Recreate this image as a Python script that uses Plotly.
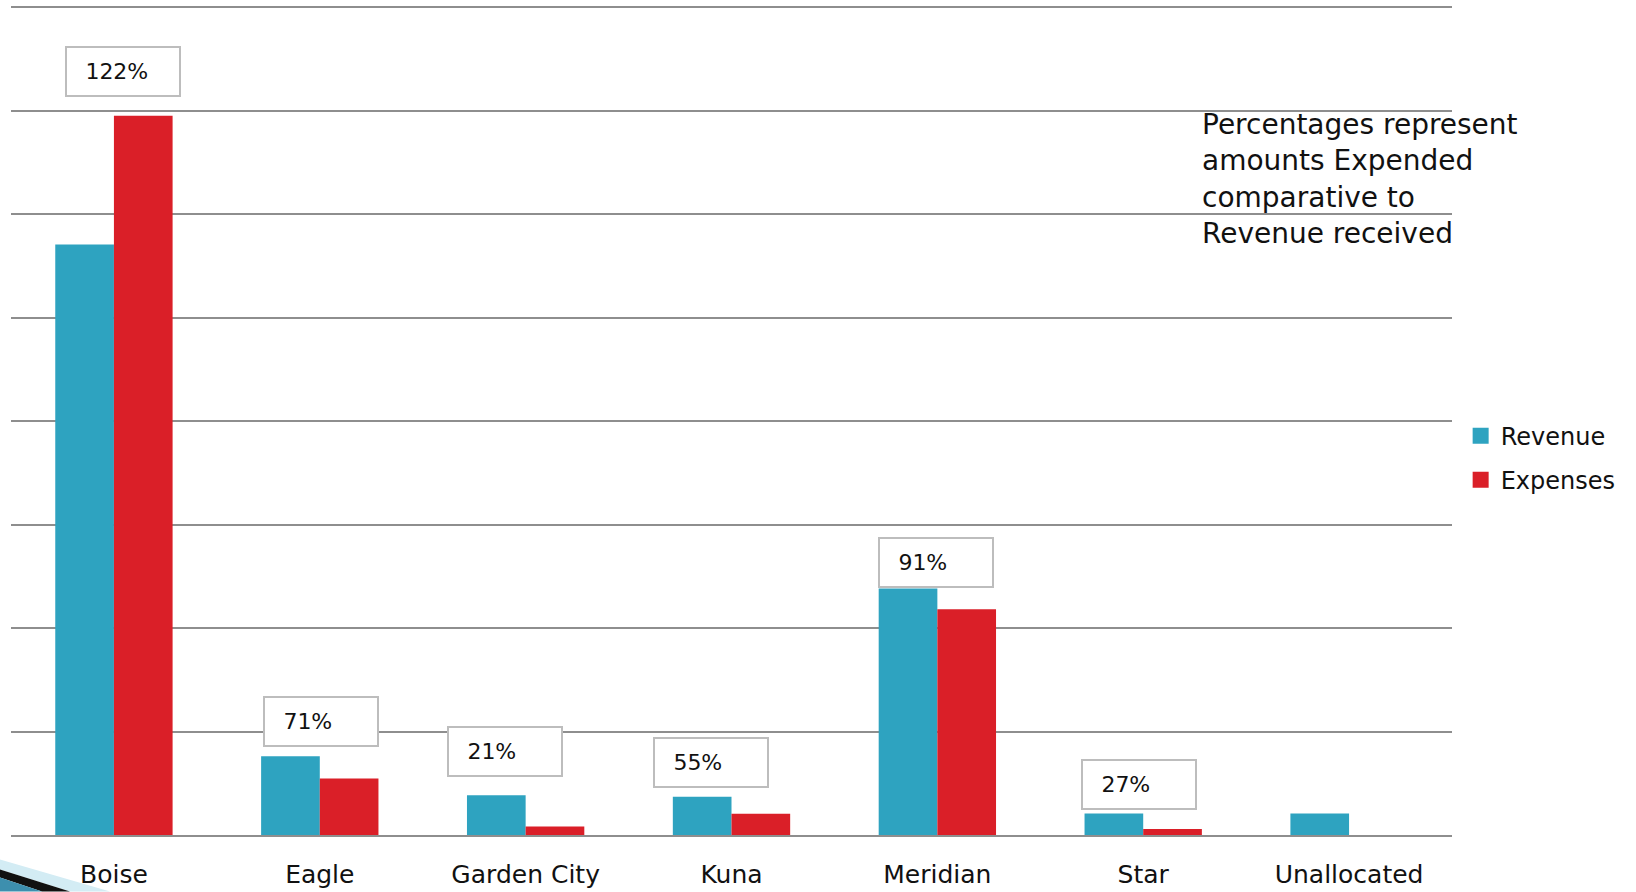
import plotly.graph_objects as go

# ---- data (values in gridline units) ----
categories = ["Boise", "Eagle", "Garden City", "Kuna", "Meridian", "Star", "Unallocated"]
revenue = [5.705, 0.761, 0.385, 0.369, 2.382, 0.208, 0.208]
expenses = [6.95, 0.546, 0.082, 0.205, 2.182, 0.057, None]
pct_labels = ["122%", "71%", "21%", "55%", "91%", "27%", None]
note_text = "Percentages represent<br>amounts Expended<br>comparative to<br>Revenue received"

# ---- styling / placement ----
BLUE = "#2ea3c0"
RED = "#da1f28"
GRID = "#8e8e8e"
FONT = "DejaVu Sans"
W, H = 1636, 892
YMAX = 8.02
ML, MR, MB = 11, 184, 56.5
UNIT = 103.5                      # px per gridline step
MT = H - MB - YMAX * UNIT         # top margin so that gridline 8 lands at ~7.5px
# label box placement: (x shift in px from category centre, box bottom in y units)
label_pos = [(-49, 7.128), (-57, 0.852), (-79, 0.558), (-79, 0.456), (-59, 2.388), (-62, 0.246), None]

fig = go.Figure()
fig.add_trace(go.Bar(x=categories, y=revenue, name="Revenue", marker=dict(color=BLUE, line=dict(width=0)),
                     showlegend=False))
fig.add_trace(go.Bar(x=categories, y=expenses, name="Expenses", marker=dict(color=RED, line=dict(width=0)),
                     showlegend=False))
# legend entries with larger square swatches
for nm, col in [("Revenue", BLUE), ("Expenses", RED)]:
    fig.add_trace(go.Scatter(x=[None], y=[None], mode="markers", name=nm, legendgroup=nm,
                             marker=dict(symbol="square", size=16, color=col)))

annotations = []
for cat, lab, pos in zip(categories, pct_labels, label_pos):
    if lab is None or pos is None:
        continue
    dx, yb = pos
    annotations.append(dict(
        x=cat, y=yb, xref="x", yref="y", xanchor="left", yanchor="bottom", xshift=dx,
        text="\u00a0\u00a0\u2009" + lab, showarrow=False, align="left", valign="middle",
        width=112, height=47, bordercolor="#bdbdbd", borderwidth=2, borderpad=0,
        bgcolor="white", font=dict(family=FONT, size=22, color="#111")))

plot_w = W - ML - MR
plot_h = H - MT - MB
def px(xpix):
    return (xpix - ML) / plot_w
def py(ypix):
    return (H - MB - ypix) / plot_h

annotations.append(dict(
    x=px(1200), y=py(106), xref="paper", yref="paper", xanchor="left", yanchor="top",
    text=note_text, showarrow=False, align="left",
    font=dict(family=FONT, size=28, color="#111")))

shapes = [
    dict(type="path", xref="paper", yref="paper", layer="below", line=dict(width=0),
         fillcolor="#d3ecf4",
         path=f"M {px(0)},{py(860)} L {px(110)},{py(892)} L {px(70)},{py(892)} L {px(0)},{py(870)} Z"),
    dict(type="path", xref="paper", yref="paper", layer="below", line=dict(width=0),
         fillcolor="#111111",
         path=f"M {px(0)},{py(870)} L {px(70)},{py(892)} L {px(42)},{py(892)} L {px(0)},{py(878)} Z"),
    dict(type="path", xref="paper", yref="paper", layer="below", line=dict(width=0),
         fillcolor="#3d8fae",
         path=f"M {px(0)},{py(878)} L {px(42)},{py(892)} L {px(0)},{py(892)} Z"),
]

fig.update_layout(
    width=W, height=H,
    margin=dict(l=ML, r=MR, t=MT, b=MB, pad=0, autoexpand=False),
    paper_bgcolor="white", plot_bgcolor="white",
    barmode="group", bargap=0.43, bargroupgap=0,
    font=dict(family=FONT, color="#111"),
    xaxis=dict(showgrid=False, showline=True, linecolor=GRID, linewidth=2, automargin=False,
               ticks="", tickfont=dict(family=FONT, size=25, color="#111"),
               ticklabelstandoff=16, fixedrange=True),
    yaxis=dict(range=[0, YMAX], dtick=1, showgrid=True, gridcolor=GRID, gridwidth=2, automargin=False,
               zeroline=False, showticklabels=False, showline=False, fixedrange=True),
    legend=dict(x=1.006, xanchor="left", y=py(414), yanchor="top",
                traceorder="grouped", tracegroupgap=10,
                font=dict(family=FONT, size=24, color="#111"),
                bgcolor="rgba(0,0,0,0)", borderwidth=0),
    annotations=annotations,
    shapes=shapes,
)

fig.write_html("out.html", config={"displayModeBar": False},
               post_script="document.body.style.margin='0';document.body.style.overflow='hidden';")
